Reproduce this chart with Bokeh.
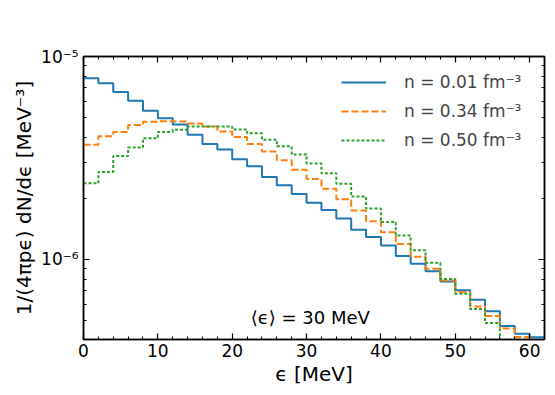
from bokeh.plotting import figure
from bokeh.models import (LinearAxis, LogAxis, FixedTicker,
                          Legend, LegendItem, Label, Range1d, ColumnDataSource,
                          CustomJSTickFormatter)
from bokeh.embed import file_html
from bokeh.resources import INLINE

# ---- data ----
bin_edges = list(range(0, 64, 2))  # 0 .. 62 MeV
n_001 = [7.82e-6, 7.39e-6, 6.69e-6, 6.06e-6, 5.40e-6, 4.96e-6, 4.62e-6, 4.11e-6,
         3.70e-6, 3.48e-6, 3.12e-6, 2.88e-6, 2.55e-6, 2.32e-6, 2.10e-6, 1.90e-6,
         1.75e-6, 1.59e-6, 1.40e-6, 1.29e-6, 1.17e-6, 1.04e-6, 9.52e-7, 8.75e-7,
         7.79e-7, 7.04e-7, 6.33e-7, 5.56e-7, 4.70e-7, 4.30e-7, 4.14e-7]
n_034 = [3.67e-6, 4.04e-6, 4.25e-6, 4.59e-6, 4.77e-6, 4.80e-6, 4.78e-6, 4.67e-6,
         4.52e-6, 4.27e-6, 4.01e-6, 3.70e-6, 3.40e-6, 3.08e-6, 2.77e-6, 2.49e-6,
         2.23e-6, 1.98e-6, 1.74e-6, 1.54e-6, 1.36e-6, 1.19e-6, 1.03e-6, 9.00e-7,
         7.88e-7, 6.90e-7, 5.86e-7, 5.26e-7, 4.57e-7, 4.15e-7, 3.60e-7]
n_050 = [2.37e-6, 2.70e-6, 3.23e-6, 3.56e-6, 3.95e-6, 4.25e-6, 4.35e-6, 4.52e-6,
         4.52e-6, 4.52e-6, 4.37e-6, 4.18e-6, 3.89e-6, 3.61e-6, 3.29e-6, 2.97e-6,
         2.66e-6, 2.36e-6, 2.04e-6, 1.78e-6, 1.53e-6, 1.31e-6, 1.11e-6, 9.62e-7,
         8.00e-7, 6.78e-7, 5.69e-7, 4.86e-7, 3.97e-7, 3.50e-7, 3.20e-7]
series_labels = ["n = 0.01 fm\u207b\u00b3", "n = 0.34 fm\u207b\u00b3", "n = 0.50 fm\u207b\u00b3"]
x_major = [0, 10, 20, 30, 40, 50, 60]
x_minor = list(range(0, 64, 2))
y_major = [1e-6, 1e-5]
y_minor = [4e-7, 5e-7, 6e-7, 7e-7, 8e-7, 9e-7,
           2e-6, 3e-6, 4e-6, 5e-6, 6e-6, 7e-6, 8e-6, 9e-6]
y_tick_labels = {1e-5: "10\u207b\u2075", 1e-6: "10\u207b\u2076"}
annotation = "\u27e8\u03f5\u27e9 = 30 MeV"

FONT = "DejaVu Sans"

p = figure(width=547, height=390, y_axis_type="log",
           x_range=Range1d(0, 62), y_range=Range1d(4.03e-7, 1e-5),
           output_backend="svg", toolbar_location=None,
           min_border_left=83, min_border_right=3, min_border_top=56, min_border_bottom=51)
p.grid.visible = False
p.outline_line_color = "black"
p.outline_line_width = 1.5
p.background_fill_color = "white"
p.border_fill_color = "white"

colors = ["#1f77b4", "#ff7f0e", "#2ca02c"]
dashes = ["solid", "7 3", "3 2"]
renderers = []
for vals, c, d in zip([n_001, n_034, n_050], colors, dashes):
    src = ColumnDataSource(dict(x=bin_edges, y=vals + [vals[-1]]))
    r = p.step("x", "y", source=src, mode="after", line_color=c, line_width=2,
               line_dash=d)
    renderers.append(r)

def style_axis(ax):
    ax.axis_line_color = "black"
    ax.axis_line_width = 1.5
    ax.major_tick_in = 6
    ax.major_tick_out = 0
    ax.minor_tick_in = 3
    ax.minor_tick_out = 0
    ax.major_tick_line_width = 1.2
    ax.minor_tick_line_width = 1
    ax.major_label_text_font = FONT
    ax.major_label_text_color = "black"
    ax.major_label_text_font_size = "17px"
    ax.axis_label_text_font = FONT
    ax.axis_label_text_font_style = "normal"
    ax.axis_label_text_font_size = "20px"
    ax.axis_label_text_color = "black"

p.xaxis.ticker = FixedTicker(ticks=x_major, minor_ticks=x_minor)
p.xaxis.axis_label = "\u03f5 [MeV]"
style_axis(p.xaxis[0])
p.xaxis.major_label_standoff = 4
p.xaxis.axis_label_standoff = 2

p.yaxis.ticker = FixedTicker(ticks=y_major, minor_ticks=y_minor)
p.yaxis.major_label_overrides = y_tick_labels
p.yaxis.axis_label = "1/(4\u03c0p\u03f5) dN/d\u03f5 [MeV\u207b\u00b3]"
style_axis(p.yaxis[0])
p.yaxis.major_label_standoff = 5
p.yaxis.axis_label_standoff = 2

blank = CustomJSTickFormatter(code="return '';")
top = LinearAxis(ticker=FixedTicker(ticks=x_major, minor_ticks=x_minor), formatter=blank)
style_axis(top)
top.major_label_standoff = 0
p.add_layout(top, "above")
right = LogAxis(ticker=FixedTicker(ticks=y_major, minor_ticks=y_minor), formatter=blank)
style_axis(right)
right.major_label_standoff = 0
p.add_layout(right, "right")

legend = Legend(items=[LegendItem(label=l, renderers=[r]) for l, r in zip(series_labels, renderers)],
                location="top_right", border_line_alpha=0, background_fill_alpha=0,
                label_text_font=FONT, label_text_font_size="17px",
                glyph_width=45, glyph_height=20, spacing=9, label_standoff=18,
                label_width=124, margin=10, padding=6)
p.add_layout(legend)

p.add_layout(Label(x=30.5, y=4.6e-7, text=annotation, text_align="center",
                   text_baseline="bottom", text_font=FONT, text_font_size="18px",
                   text_color="black"))

open("out.html", "w").write(file_html(p, INLINE))
